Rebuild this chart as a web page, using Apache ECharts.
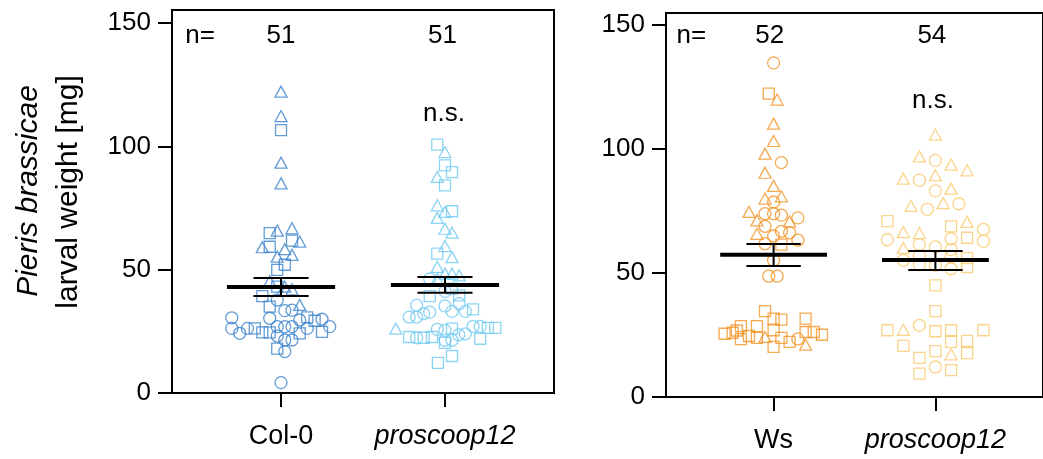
<!DOCTYPE html>
<html><head><meta charset="utf-8">
<script src="https://cdn.jsdelivr.net/npm/echarts@6.0.0/dist/echarts.min.js"></script>
<style>html,body{margin:0;padding:0;background:#fff}#chart{width:1043px;height:459px}</style>
</head><body><div id="chart"></div>
<script>
// ---------------- DATA ----------------
const leftCategories = ['Col-0', 'proscoop12'];
const rightCategories = ['Ws', 'proscoop12'];
const yTicks = [0, 50, 100, 150];

// Col-0 (left panel, category 0)
const col0Values = [122.2,112.3,106.6,93.4,85.0,64.8,65.8,66.8,61.8,61.4,59.1,59.3,58.3,56.0,55.3,52.0,49.9,45.4,43.1,43.1,42.0,39.3,37.7,35.0,35.7,33.4,33.6,30.5,30.3,30.7,29.6,29.9,29.3,26.9,26.2,24.2,26.2,26.2,24.6,24.6,26.9,26.9,26.9,26.2,24.2,24.8,23.1,21.5,21.5,18.0,16.8,4.2];
const col0Jitter = [0,0,0,0,0,-0.069,-0.023,0.067,0.067,0.114,-0.114,-0.069,0.023,0.067,-0.023,0.023,-0.023,-0.069,-0.023,0.023,0.067,-0.114,-0.023,-0.069,0.114,0.023,0.067,-0.30,-0.069,0.16,0.114,0.25,0.205,0.297,-0.30,-0.252,-0.205,-0.16,-0.114,-0.069,-0.023,0.023,0.067,0.16,0.114,0.25,-0.023,0.023,0.067,-0.023,0.023,0];
const col0Shapes = 'ttstt' + 'sttst' + 'tsttt' + 'sstst' + 'tscst' + 'ccccs' + 'ccscc' + 'ccsss' + 'ccccs' + 'scccs' + 'cc';

// proscoop12 (left panel, category 1)
const prosLValues = [100.7,97.7,92.3,89.6,87.6,84.2,76.1,73.7,73.4,71.0,66.6,65.0,59.6,56.5,55.1,51.1,48.4,48.4,47.7,46.3,46.3,41.2,42.3,39.3,39.6,35.6,35.3,36.2,32.8,32.2,33.1,33.9,33.1,30.8,30.8,26.1,25.8,25.4,26.1,27.0,27.0,26.4,26.4,22.7,22.4,22.4,22.7,23.6,24.0,22.0,21.4,21.4,20.3,12.2,15.0];
const prosLJitter = [-0.047,0,0,0.043,-0.047,0,-0.047,0.043,0,-0.047,0,0.043,0,-0.047,0.043,-0.047,0,0.043,0.087,-0.093,-0.047,0,0.043,-0.093,0.087,-0.173,0,0.087,-0.093,-0.13,0.043,0.171,0.124,-0.218,-0.173,-0.30,-0.047,0,0.043,0.171,0.215,0.262,0.307,-0.218,-0.173,-0.13,-0.079,0.084,0.124,0.215,0,0.043,0,-0.043,0.043];
const prosLShapes = 'stsst' + 'ststt' + 'tttst' + 'ttttc' + 'tcsss' + 'ccccc' + 'csccc' + 'tccsc' + 'csssc' + 'ssccs' + 'ccsss';

// Ws (right panel, category 0)
const wsValues = [134.7,122.3,119.9,110.2,103.2,98.1,94.5,90.4,85.1,80.0,80.9,78.6,74.6,73.9,73.9,73.3,72.2,71.2,70.8,68.8,66.8,66.2,65.8,64.9,63.2,61.8,61.4,55.1,48.7,48.7,34.6,31.6,31.2,31.6,28.6,28.6,26.9,25.5,25.9,24.6,26.2,26.2,25.1,23.3,23.8,24.2,23.8,22.2,23.4,21.1,20.2,26.8];
const wsJitter = [0,-0.03,0.022,0,0,-0.053,0.048,-0.053,0,-0.053,0.048,0,-0.152,-0.053,0,0.048,0.15,-0.103,0.099,-0.053,0.048,0.099,-0.103,0,0.15,-0.053,0.048,0,-0.03,0.022,-0.053,0,0.048,0.198,-0.202,-0.103,0,-0.303,-0.253,-0.152,0.198,0.248,0.299,-0.202,-0.103,-0.053,0.048,0.099,0.15,0.198,0,-0.227];
const wsShapes = 'csttt' + 'tcttt' + 'tctcc' + 'ccttc' + 'cctcc' + 'csccc' + 'sssss' + 'sssss' + 'sssss' + 'tssct' + 'ss';

// proscoop12 (right panel, category 1)
const prosRValues = [105.8,97.0,95.4,93.7,91.4,88.0,87.4,89.4,83.1,84.0,77.0,75.7,78.2,77.9,70.9,68.8,70.6,66.5,66.1,67.6,63.4,63.8,64.2,62.8,60.1,61.4,60.5,59.4,55.1,53.3,53.1,51.7,52.4,45.0,34.6,28.9,26.9,27.1,26.5,26.9,26.9,22.2,22.6,20.6,18.5,17.7,17.2,15.8,12.1,10.8,9.4,57.0,56.5,56.0];
const prosRJitter = [0,-0.099,0,0.097,0.196,-0.198,-0.099,0,0,0.097,-0.15,-0.05,0.048,0.145,-0.297,0.097,0.196,-0.198,-0.099,0.297,-0.297,0.097,0.196,0.297,-0.198,-0.099,0,0.097,-0.198,-0.099,0,0.097,0.196,0,0,-0.099,-0.297,-0.198,0,0.097,0.297,0.097,0.196,-0.198,0,0.196,0.097,-0.099,0,0.097,-0.099,-0.099,0.097,0.196];
const prosRShapes = 'ttctt' + 'tctct' + 'tctcs' + 'stttc' + 'ccsct' + 'ccccc' + 'ccsss' + 'cstss' + 'sssss' + 'stscs' + 'sccs';

// mean and SEM
const meanLeft = [43.0, 43.8];
const semLowLeft = [39.3, 40.6];
const semHighLeft = [46.6, 47.0];
const meanRight = [57.3, 55.2];
const semLowRight = [52.8, 51.2];
const semHighRight = [61.7, 58.9];

// annotations
const nLeft = ['51', '51'];
const nRight = ['52', '54'];
const sigLeft = ['', 'n.s.'];
const sigRight = ['', 'n.s.'];

// ---------------- CHART ----------------
const FONT = '"Liberation Sans", Arial, Helvetica, sans-serif';
const colors = { col0: '#3b82cc', prosL: '#6fc9f0', ws: '#f39325', prosR: '#fbc96c' };
const symbolOf = { c: 'circle', s: 'rect', t: 'triangle' };
const sizeOf = { c: 12, s: 11, t: [12, 11] };

function pointsSeries(name, cat, values, jitter, shapes, color, gi) {
  return {
    name, type: 'scatter', xAxisIndex: gi, yAxisIndex: gi, z: 3,
    data: values.map((v, i) => ({
      value: [cat + jitter[i], v],
      symbol: symbolOf[shapes[i]],
      symbolSize: sizeOf[shapes[i]]
    })),
    itemStyle: { color: 'rgba(0,0,0,0)', borderColor: color, borderWidth: 1.3 },
    emphasis: { disabled: true }, silent: true, animation: false
  };
}

function meanSeries(gi, means, lows, highs) {
  return {
    type: 'custom', xAxisIndex: gi, yAxisIndex: gi, z: 5, silent: true, clip: false,
    data: means.map((m, i) => [i, m, lows[i], highs[i]]),
    renderItem(params, api) {
      const c = api.value(0);
      const pm = api.coord([c, api.value(1)]);
      const plo = api.coord([c, api.value(2)]);
      const phi = api.coord([c, api.value(3)]);
      const hm = api.size([0.33, 0])[0];
      const hc = api.size([0.168, 0])[0];
      const thin = { stroke: '#000', lineWidth: 2 };
      return { type: 'group', children: [
        { type: 'line', shape: { x1: plo[0], y1: plo[1], x2: phi[0], y2: phi[1] }, style: thin },
        { type: 'line', shape: { x1: plo[0] - hc, y1: plo[1], x2: plo[0] + hc, y2: plo[1] }, style: thin },
        { type: 'line', shape: { x1: phi[0] - hc, y1: phi[1], x2: phi[0] + hc, y2: phi[1] }, style: thin },
        { type: 'line', shape: { x1: pm[0] - hm, y1: pm[1], x2: pm[0] + hm, y2: pm[1] }, style: { stroke: '#000', lineWidth: 4 } }
      ]};
    },
    animation: false
  };
}

function xAxis(gi, cats) {
  return {
    type: 'value', gridIndex: gi, min: -0.665, max: 1.665,
    axisLine: { show: true, onZero: false, lineStyle: { color: '#000', width: 2 } },
    axisTick: { show: true, length: 14, customValues: [0, 1], lineStyle: { color: '#000', width: 2 } },
    axisLabel: {
      customValues: [0, 1], margin: 30,
      formatter: v => { const c = cats[Math.round(v)]; return c === 'proscoop12' ? '{i|' + c + '}' : '{n|' + c + '}'; },
      rich: {
        i: { fontStyle: 'italic', fontSize: 27, fontFamily: FONT, color: '#000' },
        n: { fontSize: 27, fontFamily: FONT, color: '#000' }
      }
    },
    splitLine: { show: false }
  };
}

function yAxis(gi, max) {
  return {
    type: 'value', gridIndex: gi, min: 0, max: max,
    axisLine: { show: true, onZero: false, lineStyle: { color: '#000', width: 2 } },
    axisTick: { show: true, length: 14, customValues: yTicks, lineStyle: { color: '#000', width: 2 } },
    axisLabel: { customValues: yTicks, margin: 21, fontSize: 26, fontFamily: FONT, color: '#000' },
    splitLine: { show: false }
  };
}

const titleGraphics = [
  { type: 'text', x: 29, y: 191, rotation: Math.PI / 2,
    style: { text: 'Pieris brassicae', fontSize: 30, fontStyle: 'italic', fontFamily: FONT, fill: '#000', align: 'center', verticalAlign: 'middle' } },
  { type: 'text', x: 69, y: 192, rotation: Math.PI / 2,
    style: { text: 'larval weight [mg]', fontSize: 30, fontFamily: FONT, fill: '#000', align: 'center', verticalAlign: 'middle' } }
];

const chart = echarts.init(document.getElementById('chart'), null, { renderer: 'canvas' });
chart.setOption({
  backgroundColor: '#fff',
  animation: false,
  grid: [
    { left: 172, top: 10, width: 382, height: 383, show: true, borderColor: '#000', borderWidth: 2, backgroundColor: 'rgba(0,0,0,0)' },
    { left: 666, top: 13, width: 384.5, height: 384, show: true, borderColor: '#000', borderWidth: 2, backgroundColor: 'rgba(0,0,0,0)' }
  ],
  xAxis: [xAxis(0, leftCategories), xAxis(1, rightCategories)],
  yAxis: [yAxis(0, 155.3), yAxis(1, 154.8)],
  graphic: titleGraphics,
  series: [
    pointsSeries('Col-0', 0, col0Values, col0Jitter, col0Shapes, colors.col0, 0),
    pointsSeries('proscoop12', 1, prosLValues, prosLJitter, prosLShapes, colors.prosL, 0),
    pointsSeries('Ws', 0, wsValues, wsJitter, wsShapes, colors.ws, 1),
    pointsSeries('proscoop12 ', 1, prosRValues, prosRJitter, prosRShapes, colors.prosR, 1),
    meanSeries(0, meanLeft, semLowLeft, semHighLeft),
    meanSeries(1, meanRight, semLowRight, semHighRight)
  ]
});

// annotations placed through the axes' own scales
const annotations = [
  { gi: 0, text: 'n=', at: [-0.494, 145.0] },
  { gi: 0, text: nLeft[0], at: [0, 145.0] },
  { gi: 0, text: nLeft[1], at: [0.985, 145.0] },
  { gi: 0, text: sigLeft[1], at: [0.994, 113.3] },
  { gi: 1, text: 'n=', at: [-0.509, 145.5] },
  { gi: 1, text: nRight[0], at: [-0.024, 145.5] },
  { gi: 1, text: nRight[1], at: [0.978, 145.5] },
  { gi: 1, text: sigRight[1], at: [0.985, 119.2] }
];
const annGraphics = annotations.filter(a => a.text).map(a => {
  const p = chart.convertToPixel({ gridIndex: a.gi }, a.at);
  return { type: 'text', x: p[0], y: p[1], silent: true, z: 10,
    style: { text: a.text, fontSize: 26, fontFamily: FONT, fill: '#000', align: 'center', verticalAlign: 'middle' } };
});
chart.setOption({ graphic: titleGraphics.concat(annGraphics) });
</script></body></html>
